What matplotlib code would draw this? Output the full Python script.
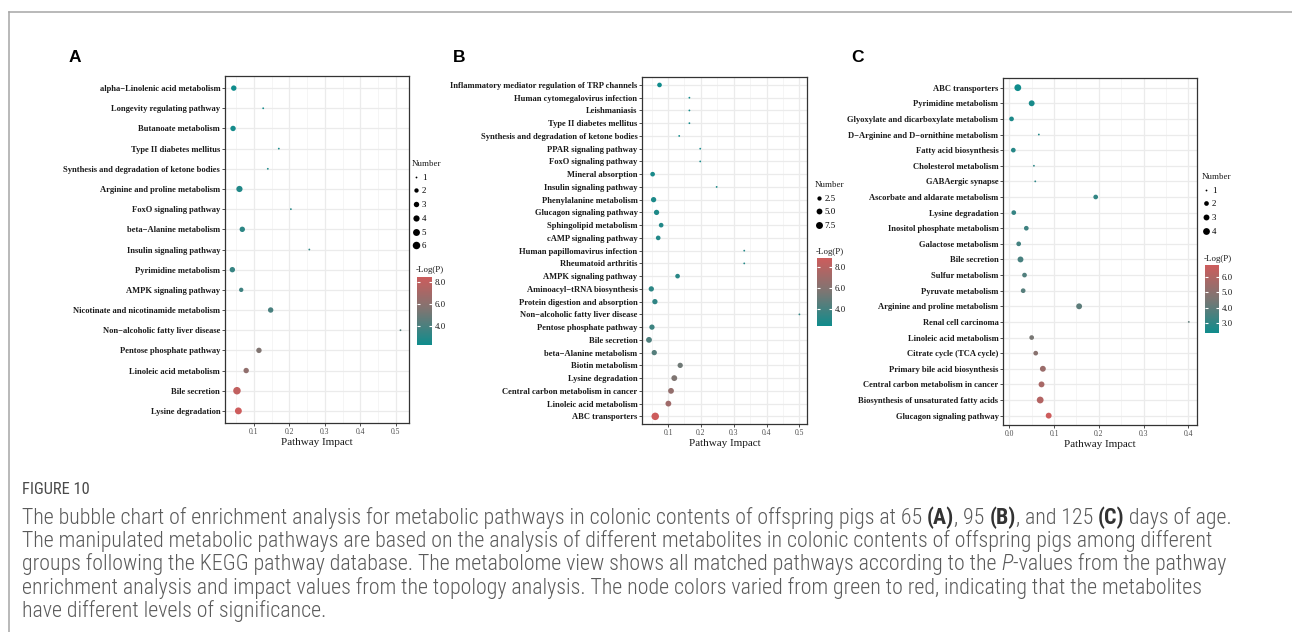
import matplotlib
matplotlib.use('Agg')
import matplotlib.pyplot as plt
import numpy as np
from matplotlib import font_manager
from matplotlib.colors import LinearSegmentedColormap, Normalize
from matplotlib.cm import ScalarMappable
from matplotlib.lines import Line2D
from matplotlib.ticker import FormatStrFormatter, MultipleLocator

W, H, DPI = 1292, 632, 100

# ---- panel A (65 days) ----
a_paths = ["alpha\u2212Linolenic acid metabolism", "Longevity regulating pathway",
           "Butanoate metabolism", "Type II diabetes mellitus",
           "Synthesis and degradation of ketone bodies", "Arginine and proline metabolism",
           "FoxO signaling pathway", "beta\u2212Alanine metabolism", "Insulin signaling pathway",
           "Pyrimidine metabolism", "AMPK signaling pathway",
           "Nicotinate and nicotinamide metabolism", "Non\u2212alcoholic fatty liver disease",
           "Pentose phosphate pathway", "Linoleic acid metabolism", "Bile secretion",
           "Lysine degradation"]
a_impact = [0.043, 0.126, 0.041, 0.170, 0.139, 0.059, 0.204, 0.067, 0.256, 0.039,
            0.064, 0.147, 0.513, 0.114, 0.078, 0.052, 0.056]
a_number = [3, 1, 3, 1, 1, 4, 1, 3, 1, 3, 2, 3, 1, 3, 3, 6, 5]
a_logp = [2.36, 2.45, 2.55, 2.6, 2.7, 2.9, 3.0, 3.2, 3.3, 3.5, 3.7, 4.0, 4.3,
          5.6, 6.2, 8.0, 8.45]

# ---- panel B (95 days) ----
b_paths = ["Inflammatory mediator regulation of TRP channels", "Human cytomegalovirus infection",
           "Leishmaniasis", "Type II diabetes mellitus",
           "Synthesis and degradation of ketone bodies", "PPAR signaling pathway",
           "FoxO signaling pathway", "Mineral absorption", "Insulin signaling pathway",
           "Phenylalanine metabolism", "Glucagon signaling pathway", "Sphingolipid metabolism",
           "cAMP signaling pathway", "Human papillomavirus infection", "Rheumatoid arthritis",
           "AMPK signaling pathway", "Aminoacyl\u2212tRNA biosynthesis",
           "Protein digestion and absorption", "Non\u2212alcoholic fatty liver disease",
           "Pentose phosphate pathway", "Bile secretion", "beta\u2212Alanine metabolism",
           "Biotin metabolism", "Lysine degradation", "Central carbon metabolism in cancer",
           "Linoleic acid metabolism", "ABC transporters"]
b_impact = [0.074, 0.165, 0.165, 0.165, 0.134, 0.198, 0.198, 0.053, 0.248, 0.056,
            0.065, 0.079, 0.070, 0.332, 0.332, 0.129, 0.049, 0.060, 0.500, 0.051,
            0.042, 0.058, 0.137, 0.119, 0.109, 0.101, 0.061]
b_number = [3, 1, 1, 1, 1, 1, 1, 3, 1, 4, 4, 3, 3, 1, 1, 3, 4, 4, 1, 4, 5, 4, 4, 5, 5, 5, 9]
b_logp = [2.42, 2.5, 2.5, 2.5, 2.55, 2.6, 2.6, 2.7, 2.75, 2.8, 2.9, 3.0, 3.0, 3.05, 3.05,
          3.2, 3.3, 3.4, 3.5, 3.8, 4.3, 4.5, 5.3, 5.8, 6.6, 7.1, 8.9]

# ---- panel C (125 days) ----
c_paths = ["ABC transporters", "Pyrimidine metabolism",
           "Glyoxylate and dicarboxylate metabolism",
           "D\u2212Arginine and D\u2212ornithine metabolism", "Fatty acid biosynthesis",
           "Cholesterol metabolism", "GABAergic synapse", "Ascorbate and aldarate metabolism",
           "Lysine degradation", "Inositol phosphate metabolism", "Galactose metabolism",
           "Bile secretion", "Sulfur metabolism", "Pyruvate metabolism",
           "Arginine and proline metabolism", "Renal cell carcinoma", "Linoleic acid metabolism",
           "Citrate cycle (TCA cycle)", "Primary bile acid biosynthesis",
           "Central carbon metabolism in cancer", "Biosynthesis of unsaturated fatty acids",
           "Glucagon signaling pathway"]
c_impact = [0.019, 0.050, 0.005, 0.066, 0.009, 0.055, 0.058, 0.193, 0.010, 0.038, 0.021,
            0.025, 0.034, 0.031, 0.156, 0.401, 0.050, 0.059, 0.075, 0.072, 0.069, 0.088]
c_number = [4, 3, 2, 1, 2, 1, 1, 2, 2, 2, 2, 3, 2, 2, 3, 1, 2, 2, 3, 3, 4, 3]
c_logp = [2.31, 2.5, 2.6, 2.7, 2.8, 2.85, 2.9, 3.0, 3.1, 3.3, 3.4, 3.5, 3.7, 3.8, 3.9,
          4.0, 4.5, 4.9, 5.4, 5.8, 6.1, 6.82]

caption = [
    [("The bubble chart of enrichment analysis for metabolic pathways in colonic contents of offspring pigs at 65 ", {}),
     ("(A)", {'fontweight': 'bold'}), (", 95 ", {}), ("(B)", {'fontweight': 'bold'}),
     (", and 125 ", {}), ("(C)", {'fontweight': 'bold'}), (" days of age.", {})],
    [("The manipulated metabolic pathways are based on the analysis of different metabolites in colonic contents of offspring pigs among different", {})],
    [("groups following the KEGG pathway database. The metabolome view shows all matched pathways according to the ", {}),
     ("P", {'fontstyle': 'italic'}), ("-values from the pathway", {})],
    [("enrichment analysis and impact values from the topology analysis. The node colors varied from green to red, indicating that the metabolites", {})],
    [("have different levels of significance.", {})],
]

cmap = LinearSegmentedColormap.from_list('dc_ir', ['#108c8c', '#7b7673', '#cd5c5c'])
SERIF = ['Liberation Serif', 'DejaVu Serif']
avail = {f.name for f in font_manager.fontManager.ttflist}
narrow = [f for f in ['Roboto Condensed', 'Liberation Sans Narrow', 'Open Sans Condensed',
                      'Noto Sans Condensed', 'DejaVu Sans Condensed'] if f in avail]
CAPF = narrow + ['Roboto', 'DejaVu Sans']

fig = plt.figure(figsize=(W / DPI, H / DPI), dpi=DPI)


def box(l, t, r, b):
    return [l / W, 1 - b / H, (r - l) / W, (b - t) / H]


def diam(n, nmin, nmax, dmin=1.8, dmax=7.5):
    f = (np.asarray(n, float) - nmin) / (nmax - nmin)
    return (dmin + (dmax - dmin) * np.sqrt(f)) * 72 / DPI


def panel(names, impact, number, logp, axbox, xlim, xticks, nlim, dmax, leg_vals,
          leg_xy, vlim, cticks, cbox, letter_xy, letter):
    ax = fig.add_axes(box(*axbox))
    n = len(names)
    y = np.arange(n)
    norm = Normalize(*vlim)
    ax.scatter(impact, y, s=diam(number, *nlim, dmax=dmax) ** 2, c=logp, cmap=cmap,
               norm=norm, linewidths=0, zorder=3)
    ax.set_ylim(n - 0.4, -0.6)
    ax.set_xlim(*xlim)
    ax.set_yticks(y)
    ax.set_yticklabels(names, family=SERIF, fontweight='bold', fontsize=6.15, color='#1a1a1a')
    ax.set_xticks(xticks)
    ax.xaxis.set_major_formatter(FormatStrFormatter('%.1f'))
    ax.xaxis.set_minor_locator(MultipleLocator(0.05))
    for lab in ax.get_xticklabels():
        lab.set_family(SERIF)
    ax.tick_params(axis='x', labelsize=5.5, labelcolor='#4d4d4d', length=2, width=0.6,
                   color='#333333', pad=1.5)
    ax.tick_params(axis='y', length=2, width=0.6, color='#333333', pad=1.5)
    ax.tick_params(which='minor', length=0)
    ax.grid(which='major', color='#ebebeb', lw=0.9)
    ax.grid(which='minor', axis='x', color='#f2f2f2', lw=0.5)
    ax.set_axisbelow(True)
    for s in ax.spines.values():
        s.set_color('#333333')
        s.set_linewidth(0.9)
    ax.set_xlabel('Pathway Impact', family=SERIF, fontsize=8, color='#1a1a1a', labelpad=1.5)

    handles = [Line2D([], [], ls='none', marker='o', color='black', mec='none',
                      markersize=diam(v, *nlim, dmax=dmax)) for v in leg_vals]
    if all(float(v).is_integer() for v in leg_vals):
        labels = ['%d' % v for v in leg_vals]
    else:
        labels = ['%.1f' % v for v in leg_vals]
    leg = fig.legend(handles, labels, title='Number', loc='upper left',
                     bbox_to_anchor=(leg_xy[0] / W, 1 - leg_xy[1] / H), frameon=False,
                     borderpad=0, borderaxespad=0, handlelength=0.8, handletextpad=0.3,
                     labelspacing=0.62, alignment='left',
                     prop={'family': SERIF, 'size': 6.4},
                     title_fontproperties={'family': SERIF, 'size': 6.4})
    leg.get_title().set_color('#1a1a1a')

    cax = fig.add_axes(box(*cbox))
    cb = fig.colorbar(ScalarMappable(norm=norm, cmap=cmap), cax=cax, ticks=cticks)
    cb.outline.set_visible(False)
    cb.ax.yaxis.set_major_formatter(FormatStrFormatter('%.1f'))
    cax.tick_params(direction='in', color='white', length=2.5, width=0.8, left=True,
                    right=True, labelsize=6.4, labelcolor='#1a1a1a', pad=2)
    for lab in cax.get_yticklabels():
        lab.set_family(SERIF)
    cax.set_title('-Log(P)', loc='left', family=SERIF, fontsize=6.4, color='#1a1a1a', pad=3,
                  x=-0.1)

    fig.text(letter_xy[0] / W, 1 - letter_xy[1] / H, letter, fontsize=12.5, fontweight='bold',
             family=['Liberation Sans', 'DejaVu Sans'], ha='center', va='center')
    return ax


panel(a_paths, a_impact, a_number, a_logp, (225, 76, 409, 423), (0.0183, 0.537),
      [0.1, 0.2, 0.3, 0.4, 0.5], (1, 6), 7.5, [1, 2, 3, 4, 5, 6], (412, 160),
      (2.36, 8.45), [4, 6, 8], (417, 276.5, 432, 344.5), (75, 57), 'A')
panel(b_paths, b_impact, b_number, b_logp, (642.3, 77.3, 807.3, 424), (0.0216, 0.524),
      [0.1, 0.2, 0.3, 0.4, 0.5], (1, 9), 7.5, [2.5, 5.0, 7.5], (815, 181),
      (2.42, 8.9), [4, 6, 8], (817, 258, 832, 326), (459, 57), 'B')
panel(c_paths, c_impact, c_number, c_logp, (1003.3, 78.3, 1197.3, 425), (-0.0134, 0.42),
      [0.0, 0.1, 0.2, 0.3, 0.4], (1, 4), 6.8, [1, 2, 3, 4], (1202, 173),
      (2.31, 6.82), [3, 4, 5, 6], (1205, 265, 1219, 333), (857, 57), 'C')

# page frame (top + left rule)
fig.add_artist(Line2D([9 / W, 9 / W], [0, 1 - 12 / H], color='#a6a6a6', lw=1.1))
fig.add_artist(Line2D([9 / W, 1], [1 - 12 / H, 1 - 12 / H], color='#a6a6a6', lw=1.1))

# caption
rend = fig.canvas.get_renderer()
BASE = {'fontweight': 'light'}


def text_w(s, size, kw):
    t = fig.text(0, 0, s, fontsize=size, family=CAPF, **kw)
    w = t.get_window_extent(rend).width
    t.remove()
    return w


def run_w(s, size, kw):
    return text_w('.' + s + '.', size, kw) - text_w('..', size, kw)


def props(kw):
    p = dict(BASE)
    p.update(kw)
    return p


w10 = sum(run_w(s, 10, props(kw)) for s, kw in caption[0])
cap_size = 10 * 1214 / w10

fig.text(22 / W, 1 - 489 / H, 'FIGURE 10', fontsize=cap_size * 0.75, family=CAPF,
         color='#4a4a4a', va='center', ha='left')
for i, line in enumerate(caption):
    x = 22
    y = 518 + i * 23.2
    for s, kw in line:
        p = props(kw)
        col = '#333333' if kw.get('fontweight') == 'bold' else '#5a5a5a'
        fig.text(x / W, 1 - y / H, s, fontsize=cap_size, family=CAPF, color=col,
                 va='center', ha='left', **p)
        x += run_w(s, cap_size, p)

fig.savefig('out.png', dpi=DPI)
